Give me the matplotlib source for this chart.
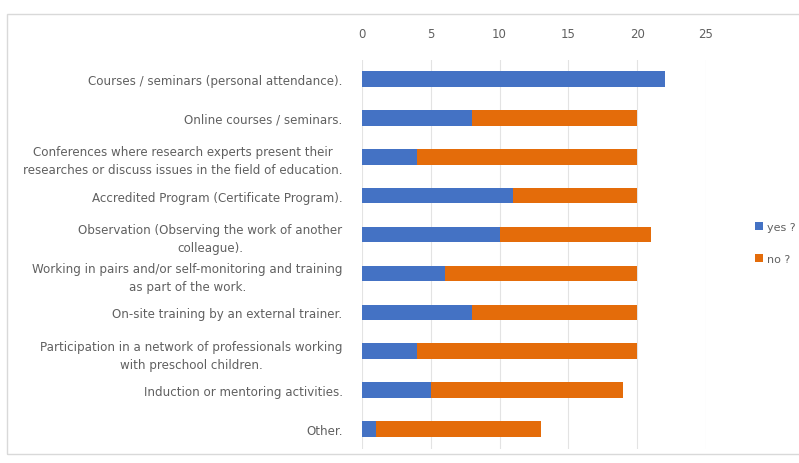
import matplotlib.pyplot as plt
from matplotlib.patches import Rectangle

categories = [
    'Courses / seminars (personal attendance).',
    'Online courses / seminars.',
    'Conferences where research experts present their\nresearches or discuss issues in the field of education.',
    'Accredited Program (Certificate Program).',
    'Observation (Observing the work of another\ncolleague).',
    'Working in pairs and/or self-monitoring and training\nas part of the work.',
    'On-site training by an external trainer.',
    'Participation in a network of professionals working\nwith preschool children.',
    'Induction or mentoring activities.',
    'Other.',
]
yes_vals = [22, 8, 4, 11, 10, 6, 8, 4, 5, 1]
no_vals = [0, 12, 16, 9, 11, 14, 12, 16, 14, 12]
ticks = [0, 5, 10, 15, 20, 25]

blue = '#4472c4'
orange = '#e46c0a'
gray_text = '#606060'

fig = plt.figure(figsize=(7.99, 4.64), dpi=100)
fig.patches.append(Rectangle((7 / 799, 1 - 455 / 464), 1.0, (455 - 15) / 464,
                             transform=fig.transFigure, fill=False,
                             edgecolor='#d9d9d9', linewidth=1))

ax = fig.add_axes([362 / 799, 1 - 449.5 / 464, (706 - 362) / 799, (449.5 - 60.5) / 464])
y = list(range(len(categories)))
ax.barh(y, yes_vals, height=0.4, color=blue, label='yes ?', zorder=3)
ax.barh(y, no_vals, left=yes_vals, height=0.4, color=orange, label='no ?', zorder=3)

ax.set_xlim(0, 25)
ax.set_ylim(len(categories) - 0.5, -0.5)
ax.set_xticks(ticks)
ax.set_yticks(y)
ax.set_yticklabels(categories, fontsize=8.6, color=gray_text, ha='right',
                   multialignment='center', linespacing=1.5)
ax.xaxis.tick_top()
ax.tick_params(axis='x', length=0, labelsize=8.5, labelcolor=gray_text, pad=14)
ax.tick_params(axis='y', length=0, pad=14)
ax.grid(axis='x', color='#e3e3e3', linewidth=0.8, zorder=0)
for s in ax.spines.values():
    s.set_visible(False)

fig.legend(loc='center left', bbox_to_anchor=(745 / 799, 1 - 244 / 464), frameon=False,
           fontsize=8, labelcolor=gray_text, handlelength=0.7, handleheight=0.7,
           labelspacing=2.0, handletextpad=0.4)

fig.savefig('out.png', dpi=100)
